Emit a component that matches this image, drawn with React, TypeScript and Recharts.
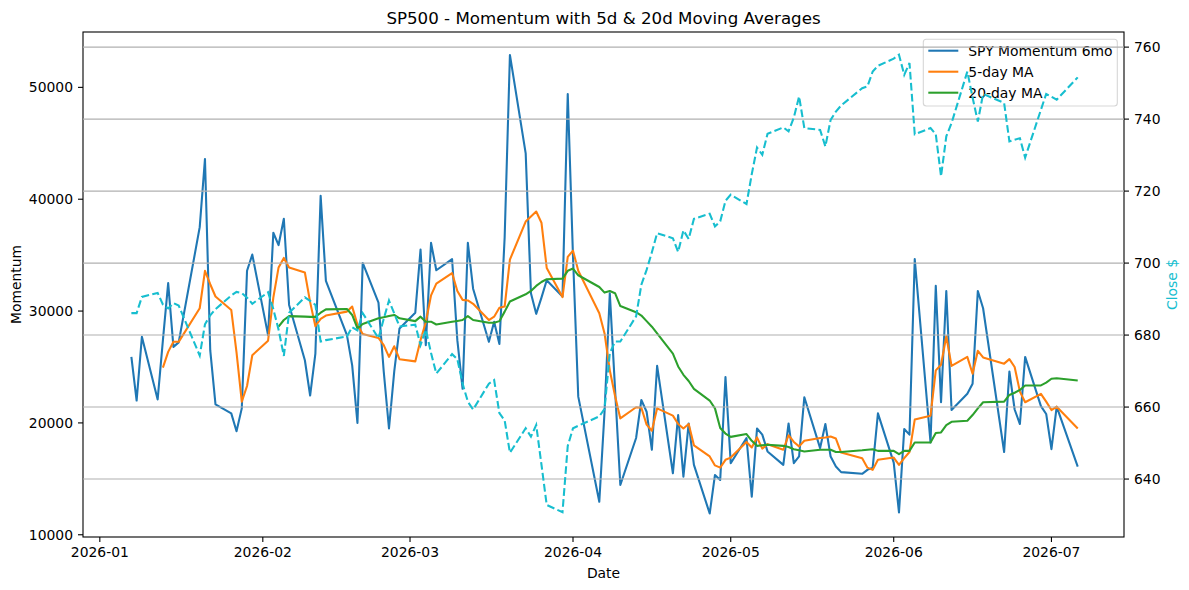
import React from 'react';
import { LineChart, Line, XAxis, YAxis, ReferenceLine } from 'recharts';

const dates = [
  '2026-01-07','2026-01-08','2026-01-09','2026-01-12','2026-01-13','2026-01-14','2026-01-15','2026-01-16','2026-01-20','2026-01-21',
  '2026-01-22','2026-01-23','2026-01-26','2026-01-27','2026-01-28','2026-01-29','2026-01-30','2026-02-02','2026-02-03','2026-02-04',
  '2026-02-05','2026-02-06','2026-02-09','2026-02-10','2026-02-11','2026-02-12','2026-02-13','2026-02-17','2026-02-18','2026-02-19',
  '2026-02-20','2026-02-23','2026-02-24','2026-02-25','2026-02-26','2026-02-27','2026-03-02','2026-03-03','2026-03-04','2026-03-05',
  '2026-03-06','2026-03-09','2026-03-10','2026-03-11','2026-03-12','2026-03-13','2026-03-16','2026-03-17','2026-03-18','2026-03-19',
  '2026-03-20','2026-03-23','2026-03-24','2026-03-25','2026-03-26','2026-03-27','2026-03-30','2026-03-31','2026-04-01','2026-04-02',
  '2026-04-06','2026-04-07','2026-04-08','2026-04-09','2026-04-10','2026-04-13','2026-04-14','2026-04-15','2026-04-16','2026-04-17',
  '2026-04-20','2026-04-21','2026-04-22','2026-04-23','2026-04-24','2026-04-27','2026-04-28','2026-04-29','2026-04-30','2026-05-01',
  '2026-05-04','2026-05-05','2026-05-06','2026-05-07','2026-05-08','2026-05-11','2026-05-12','2026-05-13','2026-05-14','2026-05-15',
  '2026-05-18','2026-05-19','2026-05-20','2026-05-21','2026-05-22','2026-05-26','2026-05-27','2026-05-28','2026-05-29','2026-06-01',
  '2026-06-02','2026-06-03','2026-06-04','2026-06-05','2026-06-08','2026-06-09','2026-06-10','2026-06-11','2026-06-12','2026-06-15',
  '2026-06-16','2026-06-17','2026-06-18','2026-06-22','2026-06-23','2026-06-24','2026-06-25','2026-06-26','2026-06-29','2026-06-30',
  '2026-07-01','2026-07-02','2026-07-06',
];

const momentum = [
  25900, 22000, 27700, 22100, 27400, 32500, 26800, 27200, 37500, 43600,
  26500, 21650, 20850, 19250, 21300, 33600, 35050, 27850, 37000, 35900,
  38250, 30550, 25600, 22450, 26200, 40300, 32700, 27850, 25150, 20000,
  34300, 30750, 24600, 19500, 24600, 28450, 29850, 35500, 26950, 36100,
  33650, 34650, 27400, 23050, 36100, 32000, 27250, 29050, 27050, 36600,
  52900, 44100, 31600, 29750, 31200, 32750, 31300, 49400, 34850, 22350,
  12950, 21000, 31600, 23000, 14450, 18650, 22050, 21000, 17600, 25100,
  15500, 20700, 15200, 19950, 16250, 11900, 15350, 14900, 24100, 16400,
  18650, 13400, 19500, 18950, 17450, 16250, 19950, 16400, 17000, 22300,
  17750, 19900, 17000, 16100, 15600, 15450, 15800, 16000, 20850, 16450,
  12000, 19450, 18950, 34650, 18250, 32250, 21850, 31800, 21150, 22600,
  23500, 31800, 30250, 17400, 24600, 21200, 19900, 25900, 21500, 20800,
  17650, 21450, 16100,
];

const ma5 = [
  null, null, null, null, 24950, 26350, 27250, 27250, 30250, 33600,
  32400, 31300, 30100, 26300, 21900, 23300, 26050, 27350, 31200, 33900,
  34750, 33900, 33450, 30800, 28650, 29300, 29600, 29950, 30400, 28800,
  27950, 27600, 26950, 25900, 26850, 25700, 25500, 27400, 29000, 31400,
  32450, 33400, 31800, 31000, 30950, 30650, 29200, 29500, 30300, 30400,
  34600, 38000, 38450, 38900, 37900, 33850, 31250, 34850, 35400, 33600,
  29800, 28000, 24700, 22400, 20400, 21400, 21350, 19850, 19300, 21300,
  20650, 19900, 19500, 19900, 18000, 17000, 16200, 16000, 16700, 16900,
  18300, 17800, 18700, 17700, 18100, 17600, 18900, 18300, 17900, 18400,
  18650, 18700, 18780, 18600, 17350, 16850, 16000, 15800, 16700, 16900,
  16250, 16850, 17400, 20300, 20650, 24700, 25200, 27750, 25100, 25900,
  24400, 26450, 25850, 25300, 25700, 25000, 22800, 21850, 22600, 21900,
  21150, 21450, 19500,
];

const ma20 = [
  null, null, null, null, null, null, null, null, null, null,
  null, null, null, null, null, null, null, null, null, 28600,
  29200, 29550, 29500, 29480, 29480, 29850, 30150, 30180, 29650, 28450,
  28850, 29350, 29450, 29550, 29650, 29350, 29100, 29500, 29050, 29050,
  28800, 29050, 29120, 29200, 29550, 29200, 28950, 28950, 29100, 29950,
  30850, 31500, 31800, 32250, 32600, 32850, 32900, 33600, 33800, 33200,
  32150, 31650, 31800, 31600, 30450, 29900, 29600, 29100, 28600, 28000,
  26200, 25050, 24300, 23750, 23050, 22000, 21300, 19550, 19050, 18750,
  19000, 18400, 17950, 18000, 18050, 17950, 17850, 17650, 17550, 17450,
  17600, 17600, 17600, 17400, 17400, 17550, 17600, 17650, 17500, 17500,
  17200, 17500, 17500, 18250, 18250, 19100, 19150, 19800, 20100, 20200,
  20700, 21300, 21850, 21900, 22500, 22700, 22950, 23350, 23350, 23600,
  23950, 24000, 23800,
];

const close = [
  686.1, 686.1, 690.6, 691.7, 688.5, 687.4, 688.9, 688.2, 674.3, 683.0,
  685.5, 687.2, 691.0, 692.0, 691.7, 690.4, 688.7, 691.9, 687.2, 681.5,
  674.2, 686.2, 690.5, 689.5, 688.4, 678.2, 678.6, 679.6, 682.2, 681.3,
  686.1, 679.1, 684.5, 689.6, 686.0, 682.4, 682.9, 677.2, 681.5, 675.0,
  669.3, 674.7, 673.3, 666.5, 661.5, 659.3, 666.5, 667.5, 658.3, 656.3,
  647.3, 654.1, 651.8, 655.0, 644.0, 632.8, 630.8, 649.2, 654.1, 654.8,
  657.4, 659.5, 675.0, 678.2, 678.2, 685.2, 694.0, 698.1, 703.0, 708.3,
  706.9, 703.1, 709.1, 706.7, 712.3, 713.7, 710.2, 711.6, 717.3, 719.0,
  716.4, 724.7, 732.1, 730.1, 735.9, 737.7, 736.6, 740.4, 746.3, 737.5,
  737.0, 732.4, 739.8, 742.1, 743.8, 748.6, 749.1, 753.2, 754.8, 756.8,
  757.9, 752.3, 755.6, 735.8, 737.5, 735.8, 724.1, 735.2, 738.9, 753.2,
  746.0, 739.3, 747.0, 744.5, 733.8, 734.3, 734.7, 729.3, 742.6, 747.0,
  746.2, 745.4, 751.6,
];

const xTickLabels = ['2026-01', '2026-02', '2026-03', '2026-04', '2026-05', '2026-06', '2026-07'];
const leftTicks = [10000, 20000, 30000, 40000, 50000];
const rightTicks = [640, 660, 680, 700, 720, 740, 760];

const seriesNames = ['SPY Momentum 6mo', '5-day MA', '20-day MA'];
const seriesColors = ['#1f77b4', '#ff7f0e', '#2ca02c'];
const closeColor = '#17becf';

const dayOf = (s: string) => {
  const [y, m, d] = s.split('-').map(Number);
  return (Date.UTC(y, m - 1, d) - Date.UTC(2026, 0, 1)) / 86400000;
};

const data = dates.map((s, i) => ({
  t: dayOf(s),
  momentum: momentum[i],
  ma5: ma5[i],
  ma20: ma20[i],
  close: close[i],
}));

const xTicks = xTickLabels.map((l) => dayOf(l + '-01'));
const xFmt = (v: number) => {
  const i = xTicks.indexOf(v);
  return i >= 0 ? xTickLabels[i] : '';
};

const FONT = 'DejaVu Sans';
const W = 1189;
const H = 590;
const PL = 83;
const PR = 1124;
const PT = 32;
const PB = 537;

const tickStyle = { fill: '#000', fontSize: 13.9, fontFamily: FONT };
const tickLineStyle = { stroke: '#000', strokeWidth: 1.1 };

export default function App() {
  const midX = (PL + PR) / 2;
  const midY = (PT + PB) / 2;
  const legX = 923.3;
  const legY = 39.3;
  const rows = [50.7, 71.7, 92.7];
  return (
    <div style={{ position: 'relative', width: W, height: H, background: '#fff' }}>
      <style>{'body{margin:0;}'}</style>
      <svg width={W} height={H} style={{ position: 'absolute', left: 0, top: 0 }}>
        <text x={midX} y={23.7} textAnchor="middle" fontSize={16.67} fontFamily={FONT} fill="#000">
          SP500 - Momentum with 5d &amp; 20d Moving Averages
        </text>
        <text x={midX} y={578} textAnchor="middle" fontSize={13.9} fontFamily={FONT} fill="#000">
          Date
        </text>
        <text x={21} y={midY} textAnchor="middle" fontSize={13.9} fontFamily={FONT} fill="#000"
          transform={`rotate(-90 21 ${midY})`}>
          Momentum
        </text>
        <text x={1177} y={midY} textAnchor="middle" fontSize={13.9} fontFamily={FONT} fill={closeColor}
          transform={`rotate(-90 1177 ${midY})`}>
          Close $
        </text>
        <rect x={PL} y={PT} width={PR - PL} height={PB - PT} fill="none" stroke="#000" strokeWidth={1.1} />
        <rect x={legX} y={legY} width={194} height={66.7} rx={3} ry={3} fill="#fff" fillOpacity={0.8}
          stroke="#cccccc" strokeOpacity={0.8} strokeWidth={1.1} />
        {seriesNames.map((n, i) => (
          <g key={n}>
            <line x1={928.3} x2={958.3} y1={rows[i]} y2={rows[i]} stroke={seriesColors[i]} strokeWidth={2.08} />
            <text x={968.3} y={rows[i]} dominantBaseline="central" fontSize={13.9} fontFamily={FONT} fill="#000">
              {n}
            </text>
          </g>
        ))}
      </svg>
      <div style={{ position: 'absolute', left: 0, top: 0 }}>
        <LineChart width={W} height={H} data={data} margin={{ top: PT, right: 0, bottom: 0, left: 0 }}>
          <XAxis
            dataKey="t"
            type="number"
            domain={[-3.2, 194.8]}
            allowDataOverflow
            ticks={xTicks}
            interval={0}
            tickFormatter={xFmt}
            height={H - PB}
            tickSize={5}
            tickMargin={5}
            axisLine={false}
            tickLine={tickLineStyle}
            tick={tickStyle}
          />
          <YAxis
            yAxisId="left"
            orientation="left"
            width={PL}
            domain={[9800, 54950]}
            allowDataOverflow
            ticks={leftTicks}
            interval={0}
            tickSize={5}
            tickMargin={5}
            axisLine={false}
            tickLine={tickLineStyle}
            tick={tickStyle}
          />
          <YAxis
            yAxisId="right"
            orientation="right"
            width={W - PR}
            domain={[623.9, 764.2]}
            allowDataOverflow
            ticks={rightTicks}
            interval={0}
            tickSize={5}
            tickMargin={5}
            axisLine={false}
            tickLine={tickLineStyle}
            tick={tickStyle}
          />
          <Line yAxisId="left" type="linear" dataKey="momentum" stroke={seriesColors[0]} strokeWidth={2.08}
            strokeLinejoin="round" dot={false} activeDot={false} isAnimationActive={false} />
          <Line yAxisId="left" type="linear" dataKey="ma5" stroke={seriesColors[1]} strokeWidth={2.08}
            strokeLinejoin="round" dot={false} activeDot={false} isAnimationActive={false} />
          <Line yAxisId="left" type="linear" dataKey="ma20" stroke={seriesColors[2]} strokeWidth={2.08}
            strokeLinejoin="round" dot={false} activeDot={false} isAnimationActive={false} />
          {rightTicks.map((v) => (
            <ReferenceLine key={v} yAxisId="right" y={v} stroke="#b0b0b0" strokeWidth={1.1} />
          ))}
          <Line yAxisId="right" type="linear" dataKey="close" stroke={closeColor} strokeWidth={2.08}
            strokeDasharray="7.7 3.3" dot={false} activeDot={false} isAnimationActive={false} />
        </LineChart>
      </div>
    </div>
  );
}
